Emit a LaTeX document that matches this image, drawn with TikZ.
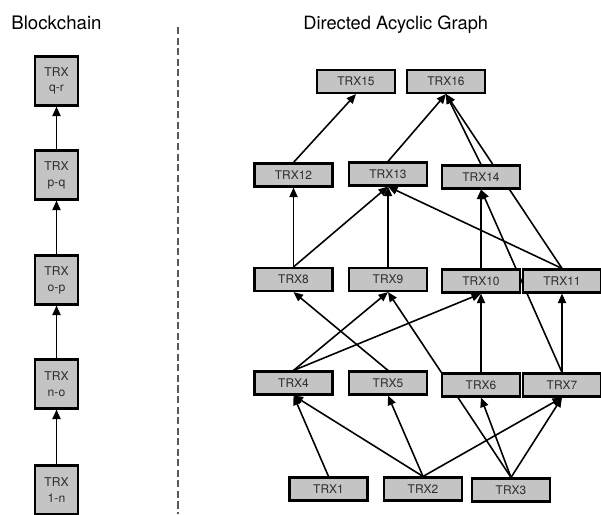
\documentclass[tikz,border=0pt]{standalone}
\usepackage{fontspec}
\setmainfont{TeX Gyre Heros}
\usetikzlibrary{arrows.meta,backgrounds}
\definecolor{boxgray}{RGB}{196,196,196}
\definecolor{textgray}{RGB}{45,45,45}
\begin{document}
\begin{tikzpicture}[
            trxnode/.style={
                draw, fill=boxgray, line width=1.2pt, inner sep=0pt,
                minimum width=1.56cm, minimum height=0.46cm,
                text=textgray, font=\fontsize{6.8}{8}\selectfont
            },
            chainnode/.style={
                draw, fill=boxgray, line width=1.2pt, inner sep=0pt,
                minimum width=0.86cm, minimum height=0.98cm, align=center,
                text=textgray, font=\fontsize{6.9}{9}\selectfont
            },
            link/.style={
                -{Triangle[length=5.4pt, width=4.6pt]}, line width=0.9pt
            }
        ]
        \useasboundingbox (0, 0) rectangle (12.02, 10.28);
        \node[anchor=base west, inner sep=0pt, font=\fontsize{10.6}{12}\selectfont] (blocktitle) at (0.22, 9.68) {Blockchain};
        \node[anchor=base west, inner sep=0pt, font=\fontsize{10.4}{12}\selectfont] (dagtitle) at (6.06, 9.68) {Directed Acyclic Graph};
        \coordinate (sepTop) at (3.56, 9.74);
        \coordinate (sepBot) at (3.56, 0);
        \draw[dash pattern=on 4pt off 2pt, line width=0.8pt, black!65] (sepTop) -- (sepBot);

        % blockchain
        \node[chainnode] (C1) at (1.13, 0.48) {TRX\\1-n};
        \node[chainnode] (C2) at (1.13, 2.60) {TRX\\n-o};
        \node[chainnode] (C3) at (1.13, 4.68) {TRX\\o-p};
        \node[chainnode] (C4) at (1.13, 6.78) {TRX\\p-q};
        \node[chainnode] (C5) at (1.13, 8.66) {TRX\\q-r};

        % dag
        \node[trxnode] (T1) at (6.57, 0.50) {TRX1};
        \node[trxnode] (T2) at (8.46, 0.50) {TRX2};
        \node[trxnode] (T3) at (10.22, 0.48) {TRX3};
        \node[trxnode] (T4) at (5.87, 2.62) {TRX4};
        \node[trxnode] (T5) at (7.76, 2.62) {TRX5};
        \node[trxnode] (T6) at (9.62, 2.58) {TRX6};
        \node[trxnode] (T7) at (11.24, 2.58) {TRX7};
        \node[trxnode] (T8) at (5.87, 4.69) {TRX8};
        \node[trxnode] (T9) at (7.76, 4.69) {TRX9};
        \node[trxnode] (T10) at (9.62, 4.66) {TRX10};
        \node[trxnode] (T11) at (11.24, 4.66) {TRX11};
        \node[trxnode] (T12) at (5.87, 6.78) {TRX12};
        \node[trxnode] (T13) at (7.76, 6.80) {TRX13};
        \node[trxnode] (T14) at (9.62, 6.74) {TRX14};
        \node[trxnode] (T15) at (7.12, 8.65) {TRX15};
        \node[trxnode] (T16) at (8.92, 8.65) {TRX16};

        % edges
        \begin{scope}[on background layer]
        \draw[link] (C1) -- (C2);
        \draw[link] (C2) -- (C3);
        \draw[link] (C3) -- (C4);
        \draw[link] (C4) -- (C5);

        \draw[link] (T1.north) -- (T4.south);
        \draw[link] (T2.north) -- (T4.south);
        \draw[link] (T2.north) -- (T5.south);
        \draw[link] (T2.north) -- (T7.south);
        \draw[link] (T3.north) -- (T6.south);
        \draw[link] (T3.north) -- (T7.south);
        \draw[link] (T3.north) -- (T9.south);
        \draw[link] (T4.north) -- (T9.south);
        \draw[link] (T4.north) -- (T10.south);
        \draw[link] (T5.north) -- (T8.south);
        \draw[link] (T6.north) -- (T10.south);
        \draw[link] (T7.north) -- (T11.south);
        \draw[link] (T7.north) -- (T14.south);
        \draw[link] (T8.north) -- (T12.south);
        \draw[link] (T8.north) -- (T13.south);
        \draw[link] (T9.north) -- (T13.south);
        \draw[link] (T10.north) -- (T14.south);
        \draw[link] (T11.north) -- (T13.south);
        \draw[link] (T11.north) -- (T16.south);
        \draw[link] (T12.north) -- (T15.south);
        \draw[link] (T13.north) -- (T16.south);
        \draw[link] (T14.north) -- (T16.south);
        \end{scope}
        \end{tikzpicture}
\end{document}
